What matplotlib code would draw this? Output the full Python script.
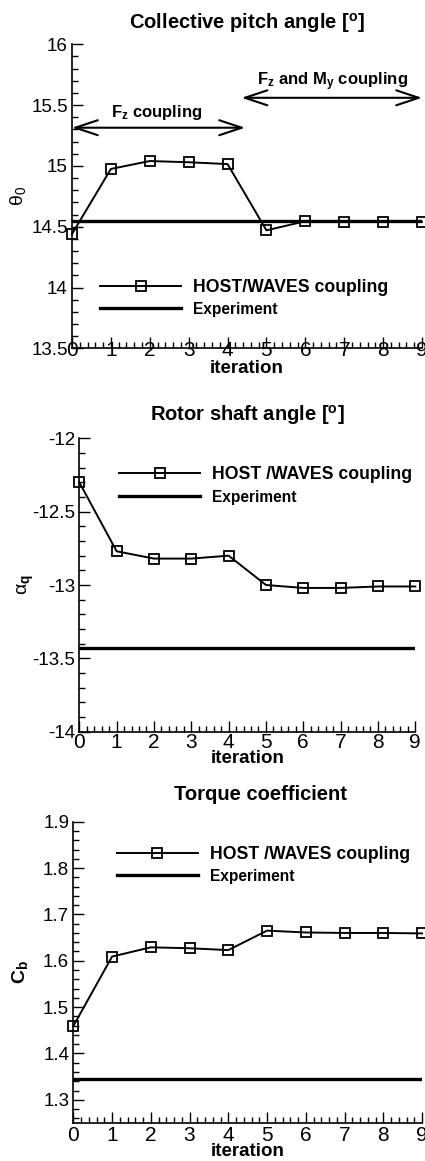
"""HOST/WAVES coupling convergence: pitch, shaft angle and torque per iteration."""

import matplotlib

matplotlib.use("Agg")
import matplotlib.pyplot as plt
from matplotlib.ticker import FormatStrFormatter, MultipleLocator

plt.rcParams["font.family"] = ["Liberation Sans", "DejaVu Sans"]
plt.rcParams["mathtext.fontset"] = "custom"
plt.rcParams["mathtext.rm"] = "Liberation Sans"
plt.rcParams["mathtext.it"] = "Liberation Sans:italic"
plt.rcParams["mathtext.bf"] = "Liberation Sans:bold"
plt.rcParams["axes.unicode_minus"] = False

iterations = [0, 1, 2, 3, 4, 5, 6, 7, 8, 9]

pitch_coupled = [14.44, 14.975, 15.04, 15.03, 15.015, 14.47, 14.545, 14.54, 14.54, 14.54]
pitch_exp = 14.545

shaft_coupled = [-12.30, -12.77, -12.82, -12.82, -12.80, -13.00, -13.02, -13.02, -13.01, -13.01]
shaft_exp = -13.43

torque_coupled = [1.459, 1.609, 1.629, 1.627, 1.623, 1.665, 1.661, 1.660, 1.660, 1.659]
torque_exp = 1.345

# coupling phases shown as arrows on the pitch panel (iteration spans)
fz_span = (0.0, 4.45)
fzmy_span = (4.36, 9.0)

W, H = 425, 1161
fig = plt.figure(figsize=(W / 100, H / 100), dpi=100)


def px_axes(left, top, right, bottom):
    return fig.add_axes([left / W, 1 - bottom / H, (right - left) / W, (bottom - top) / H])


def style(ax, ylim, ymajor, yminor, xpad):
    ax.set_xlim(0, 9)
    ax.set_ylim(*ylim)
    for s in ("top", "right"):
        ax.spines[s].set_visible(False)
    for s in ("left", "bottom"):
        ax.spines[s].set_linewidth(1.2)
    ax.xaxis.set_major_locator(MultipleLocator(1))
    ax.xaxis.set_minor_locator(MultipleLocator(0.2))
    ax.yaxis.set_major_locator(MultipleLocator(ymajor))
    ax.yaxis.set_minor_locator(MultipleLocator(yminor))
    ax.yaxis.set_major_formatter(FormatStrFormatter("%g"))
    ax.tick_params(which="both", direction="in", top=False, right=False, width=1.0)
    ax.tick_params(which="major", length=8)
    ax.tick_params(which="minor", length=4)
    ax.tick_params(axis="y", labelsize=13.5, pad=3)
    ax.tick_params(axis="x", labelsize=15, pad=xpad)


def plot_panel(ax, values, exp, label):
    ax.plot(iterations, values, color="black", lw=1.4, marker="s", ms=7,
            mfc="none", mec="black", mew=1.3, clip_on=False, label=label, zorder=3)
    ax.axhline(exp, color="black", lw=2.4, label="Experiment", zorder=2)


def legend(ax, x, y):
    leg = ax.legend(loc="upper left", bbox_to_anchor=(x, y), frameon=False,
                    handlelength=4.6, handletextpad=0.7, labelspacing=0.35,
                    borderpad=0, borderaxespad=0, prop={"weight": "bold", "size": 12.7})
    leg.get_texts()[1].set_fontsize(11.2)
    return leg


# --- collective pitch -------------------------------------------------------
ax1 = px_axes(72, 44.3, 422, 348.3)
style(ax1, (13.5, 16), 0.5, 0.1, -5)
plot_panel(ax1, pitch_coupled, pitch_exp, "HOST/WAVES coupling")
legend(ax1, 0.08, 0.229)
arrow = dict(arrowstyle="<->,head_length=0.9,head_width=0.3", color="black", lw=1.5,
             shrinkA=0, shrinkB=0, mutation_scale=18)
ax1.annotate("", xy=(fz_span[1], 15.314), xytext=(fz_span[0], 15.314),
             arrowprops=arrow, annotation_clip=False)
ax1.annotate("", xy=(fzmy_span[1], 15.56), xytext=(fzmy_span[0], 15.56),
             arrowprops=arrow, annotation_clip=False)
ax1.text(2.18, 15.44, r"$\mathbf{F_z}$ coupling", ha="center", va="center",
         fontsize=12, fontweight="bold")
ax1.text(6.7, 15.69, r"$\mathbf{F_z}$ and $\mathbf{M_y}$ coupling", ha="center",
         va="center", fontsize=12, fontweight="bold")
ax1.set_ylabel(r"$\mathrm{\theta}_0$", fontsize=14)
ax1.yaxis.set_label_coords(-0.127, 0.5)
ax1.set_xlabel("iteration", fontsize=13.5, fontweight="bold")
ax1.xaxis.set_label_coords(0.5, -0.04)
fig.text(247 / W, 1 - 22.5 / H, r"Collective pitch angle [$^\mathbf{o}$]",
         ha="center", va="center", fontsize=14.5, fontweight="bold")

# --- rotor shaft angle ------------------------------------------------------
ax2 = px_axes(79.3, 438.3, 415.3, 731.7)
style(ax2, (-14, -12), 0.5, 0.1, 1)
plot_panel(ax2, shaft_coupled, shaft_exp, "HOST /WAVES coupling")
legend(ax2, 0.118, 0.905)
ax2.set_ylabel(r"$\mathrm{\alpha}_\mathbf{q}$", fontsize=14)
ax2.yaxis.set_label_coords(-0.13, 0.5)
ax2.set_xlabel("iteration", fontsize=13.5, fontweight="bold")
ax2.xaxis.set_label_coords(0.5, -0.063)
fig.text(247 / W, 1 - 415 / H, r"Rotor shaft angle [$^\mathbf{o}$]",
         ha="center", va="center", fontsize=14.5, fontweight="bold")

# --- torque coefficient -----------------------------------------------------
ax3 = px_axes(73.3, 821.7, 422, 1123)
style(ax3, (1.25, 1.9), 0.1, 0.02, 2)
plot_panel(ax3, torque_coupled, torque_exp, "HOST /WAVES coupling")
legend(ax3, 0.125, 0.92)
ax3.set_ylabel(r"$\mathbf{C_b}$", fontsize=14)
ax3.yaxis.set_label_coords(-0.123, 0.5)
ax3.set_xlabel("iteration", fontsize=13.5, fontweight="bold")
ax3.xaxis.set_label_coords(0.5, -0.065)
fig.text(260 / W, 1 - 795 / H, "Torque coefficient",
         ha="center", va="center", fontsize=14.5, fontweight="bold")

fig.savefig("out.png", dpi=100)
